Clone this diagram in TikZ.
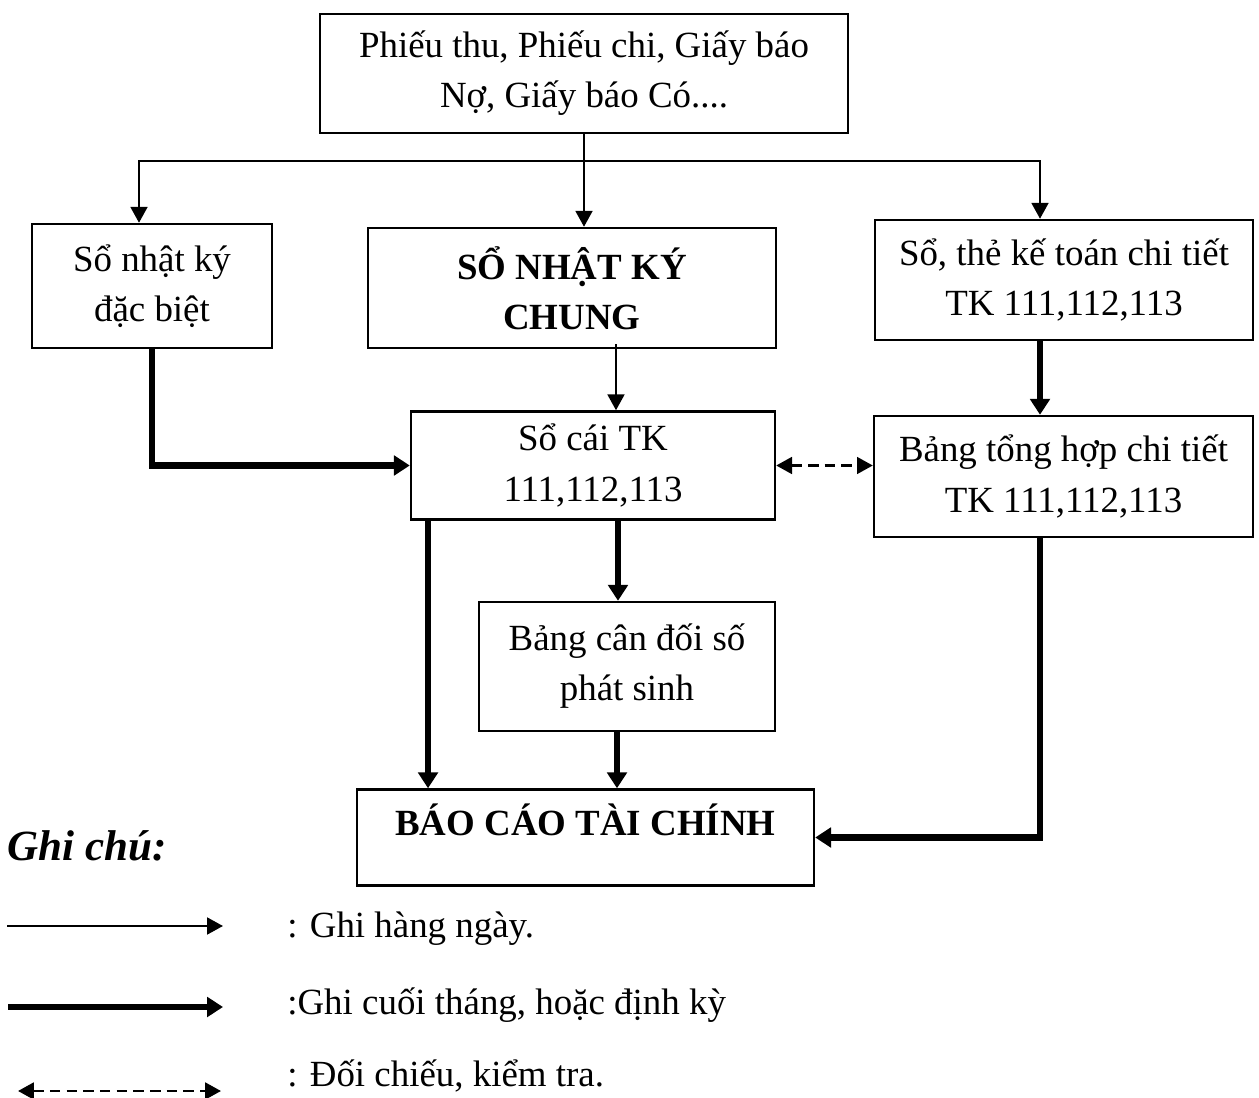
\documentclass[tikz,border=0pt]{standalone}
\usepackage{fontspec}
\setmainfont{Liberation Serif}
\usetikzlibrary{arrows.meta}

\begin{document}
\begin{tikzpicture}[x=0.02cm, y=-0.02cm,
  box/.style={draw, line width=1.4pt, inner sep=0pt, align=center,
    font=\fontsize{21}{28.5}\selectfont},
  boldbox/.style={box, font=\fontsize{21}{28.5}\selectfont\bfseries},
  daily/.style={line width=1.4pt, -{Triangle[length=9pt, width=9.5pt]}},
  periodic/.style={line width=3.9pt, -{Triangle[length=9pt, width=11pt]}},
  check/.style={line width=1.5pt, dash pattern=on 6pt off 3.5pt,
    {Triangle[length=9pt, width=9.5pt]}-{Triangle[length=9pt, width=9.5pt]}},
  legendtext/.style={anchor=base west, inner sep=0pt,
    font=\fontsize{21}{24}\selectfont}
]
\useasboundingbox (0,0) rectangle (1259,1098);

% boxes
\node[box, minimum width=10.56cm, minimum height=2.38cm] (ctu) at (584,73.5)
  {Phiếu thu, Phiếu chi, Giấy báo\\Nợ, Giấy báo Có....};
\node[box, minimum width=4.8cm, minimum height=2.48cm] (sdb) at (152,286)
  {Sổ nhật ký\\đặc biệt};
\node[boldbox, minimum width=8.16cm, minimum height=2.4cm] (nkc) at (572,288)
  {SỔ NHẬT KÝ\\CHUNG};
\node[box, minimum width=7.56cm, minimum height=2.4cm] (ct) at (1064,280)
  {Sổ, thẻ kế toán chi tiết\\TK 111,112,113};
\node[box, minimum width=7.28cm, minimum height=2.16cm] (sc) at (593,465.5)
  {Sổ cái TK\\111,112,113};
\node[box, minimum width=7.58cm, minimum height=2.42cm] (th) at (1063.5,476.5)
  {Bảng tổng hợp chi tiết\\TK 111,112,113};
\node[box, minimum width=5.92cm, minimum height=2.58cm] (cd) at (627,666.5)
  {Bảng cân đối số\\phát sinh};
\node[box, minimum width=9.14cm, minimum height=1.92cm] (bc) at (585.5,837.5) {};
\node[font=\fontsize{21}{28.5}\selectfont\bfseries, anchor=base, inner sep=0pt]
  (bct) at (585.5,835) {BÁO CÁO TÀI CHÍNH};

% daily postings from source documents
\coordinate (bus) at (584,161);
\draw[line width=1.4pt] (ctu.south) -- (bus);
\draw[daily] (bus) -| ([xshift=-0.26cm]sdb.north);
\draw[daily] (bus) -- (bus |- nkc.north);
\draw[daily] (bus) -| ([xshift=-0.48cm]ct.north);
\draw[daily] ([xshift=0.88cm,yshift=0.1cm]nkc.south) -- ([xshift=0.88cm]nkc.south |- sc.north);

% periodic postings
\draw[periodic] (sdb.south) |- (sc.west);
\draw[periodic] ([xshift=-0.48cm]ct.south) -- ([xshift=-0.48cm]ct.south |- th.north);
\draw[periodic] ([xshift=0.5cm]sc.south) -- ([xshift=0.5cm]sc.south |- cd.north);
\draw[periodic] ([xshift=-3.3cm]sc.south) -- ([xshift=-3.3cm]sc.south |- bc.north);
\draw[periodic] ([xshift=-0.2cm]cd.south) -- ([xshift=-0.2cm]cd.south |- bc.north);
\draw[periodic] ([xshift=-0.47cm]th.south) |- (bc.east);

% reconciliation
\draw[check] (sc.east) -- (sc.east -| th.west);

% legend
\node[anchor=base west, inner sep=0pt,
  font=\fontsize{24.5}{28}\selectfont\bfseries\itshape] (gc) at (7,860) {Ghi chú:};

\coordinate (l1a) at (7,926);   \coordinate (l1b) at (223,926);
\coordinate (l2a) at (8,1007);  \coordinate (l2b) at (223,1007);
\coordinate (l3a) at (18,1091); \coordinate (l3b) at (221,1091);
\draw[daily] (l1a) -- (l1b);
\draw[periodic] (l2a) -- (l2b);
\draw[check] (l3a) -- (l3b);

\node[legendtext] (t1) at (287,937) {: Ghi hàng ngày.};
\node[legendtext] (t2) at (287,1014) {:Ghi cuối tháng, hoặc định kỳ};
\node[legendtext] (t3) at (287,1086) {: Đối chiếu, kiểm tra.};
\end{tikzpicture}
\end{document}
